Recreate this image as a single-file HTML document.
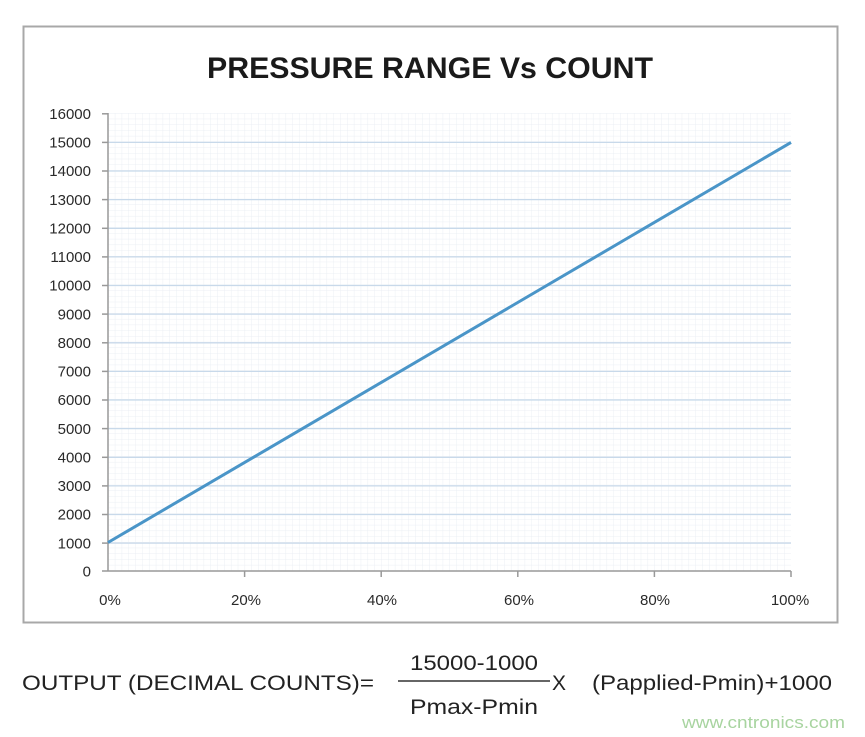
<!DOCTYPE html>
<html><head><meta charset="utf-8"><style>
html,body{margin:0;padding:0;background:#fff;width:865px;height:737px;overflow:hidden}
svg{display:block}
</style></head><body>
<svg width="865" height="737" viewBox="0 0 865 737" xmlns="http://www.w3.org/2000/svg" font-family="Liberation Sans, Arial, sans-serif">
<rect x="23.5" y="26.5" width="814" height="596" fill="#fff" stroke="#a8a8a8" stroke-width="2"/>
<text x="430" y="78" text-anchor="middle" font-size="30" font-weight="bold" fill="#1a1a1a" textLength="446" lengthAdjust="spacingAndGlyphs">PRESSURE RANGE Vs COUNT</text>
<defs><pattern id="mg" width="6.83" height="5.72" patternUnits="userSpaceOnUse" x="108" y="113"><path d="M0 0H6.83M0 0V5.72" stroke="#e6ebf1" stroke-width="1" fill="none"/></pattern></defs>
<rect x="108" y="113" width="683" height="458" fill="url(#mg)" opacity="0.8"/>
<g stroke="#c8d9ea" stroke-width="1.3">
<line x1="108" y1="142.4" x2="791" y2="142.4"/><line x1="108" y1="171" x2="791" y2="171"/><line x1="108" y1="199.6" x2="791" y2="199.6"/><line x1="108" y1="228.3" x2="791" y2="228.3"/><line x1="108" y1="256.9" x2="791" y2="256.9"/><line x1="108" y1="285.5" x2="791" y2="285.5"/><line x1="108" y1="314.1" x2="791" y2="314.1"/><line x1="108" y1="342.8" x2="791" y2="342.8"/><line x1="108" y1="371.4" x2="791" y2="371.4"/><line x1="108" y1="400" x2="791" y2="400"/><line x1="108" y1="428.6" x2="791" y2="428.6"/><line x1="108" y1="457.3" x2="791" y2="457.3"/><line x1="108" y1="485.9" x2="791" y2="485.9"/><line x1="108" y1="514.5" x2="791" y2="514.5"/><line x1="108" y1="543.1" x2="791" y2="543.1"/>
</g>
<g stroke="#999" stroke-width="1.5">
<line x1="108" y1="113" x2="108" y2="571"/>
<line x1="108" y1="571" x2="791" y2="571"/>
<line x1="102" y1="113.8" x2="108" y2="113.8"/><line x1="102" y1="142.4" x2="108" y2="142.4"/><line x1="102" y1="171" x2="108" y2="171"/><line x1="102" y1="199.6" x2="108" y2="199.6"/><line x1="102" y1="228.3" x2="108" y2="228.3"/><line x1="102" y1="256.9" x2="108" y2="256.9"/><line x1="102" y1="285.5" x2="108" y2="285.5"/><line x1="102" y1="314.1" x2="108" y2="314.1"/><line x1="102" y1="342.8" x2="108" y2="342.8"/><line x1="102" y1="371.4" x2="108" y2="371.4"/><line x1="102" y1="400" x2="108" y2="400"/><line x1="102" y1="428.6" x2="108" y2="428.6"/><line x1="102" y1="457.3" x2="108" y2="457.3"/><line x1="102" y1="485.9" x2="108" y2="485.9"/><line x1="102" y1="514.5" x2="108" y2="514.5"/><line x1="102" y1="543.1" x2="108" y2="543.1"/><line x1="102" y1="571" x2="108" y2="571"/>
<line x1="244.6" y1="571" x2="244.6" y2="577"/><line x1="381.2" y1="571" x2="381.2" y2="577"/><line x1="517.8" y1="571" x2="517.8" y2="577"/><line x1="654.4" y1="571" x2="654.4" y2="577"/><line x1="791" y1="571" x2="791" y2="577"/>
</g>
<line x1="108" y1="542.5" x2="791" y2="142.4" stroke="#4a95c8" stroke-width="3"/>
<g font-size="15" fill="#2a2a2a" text-anchor="end">
<text x="91" y="119">16000</text><text x="91" y="147.6">15000</text><text x="91" y="176.2">14000</text><text x="91" y="204.8">13000</text><text x="91" y="233.5">12000</text><text x="91" y="262.1">11000</text><text x="91" y="290.7">10000</text><text x="91" y="319.3">9000</text><text x="91" y="348">8000</text><text x="91" y="376.6">7000</text><text x="91" y="405.2">6000</text><text x="91" y="433.8">5000</text><text x="91" y="462.5">4000</text><text x="91" y="491.1">3000</text><text x="91" y="519.7">2000</text><text x="91" y="548.3">1000</text><text x="91" y="576.5">0</text>
</g>
<g font-size="15" fill="#2a2a2a" text-anchor="middle">
<text x="110" y="605">0%</text><text x="246" y="605">20%</text><text x="382" y="605">40%</text><text x="519" y="605">60%</text><text x="655" y="605">80%</text><text x="790" y="605">100%</text>
</g>
<g font-size="21" fill="#222">
<text x="22" y="690" textLength="352" lengthAdjust="spacingAndGlyphs">OUTPUT (DECIMAL COUNTS)=</text>
<text x="474" y="670" text-anchor="middle" textLength="128" lengthAdjust="spacingAndGlyphs">15000-1000</text>
<line x1="398" y1="681" x2="550" y2="681" stroke="#333" stroke-width="1.5"/>
<text x="474" y="714" text-anchor="middle" textLength="128" lengthAdjust="spacingAndGlyphs">Pmax-Pmin</text>
<text x="552" y="690">X</text>
<text x="592" y="690" textLength="240" lengthAdjust="spacingAndGlyphs">(Papplied-Pmin)+1000</text>
</g>
<text x="682" y="728" font-size="17" fill="#a8d4a0" textLength="163" lengthAdjust="spacingAndGlyphs">www.cntronics.com</text>
</svg>
</body></html>
